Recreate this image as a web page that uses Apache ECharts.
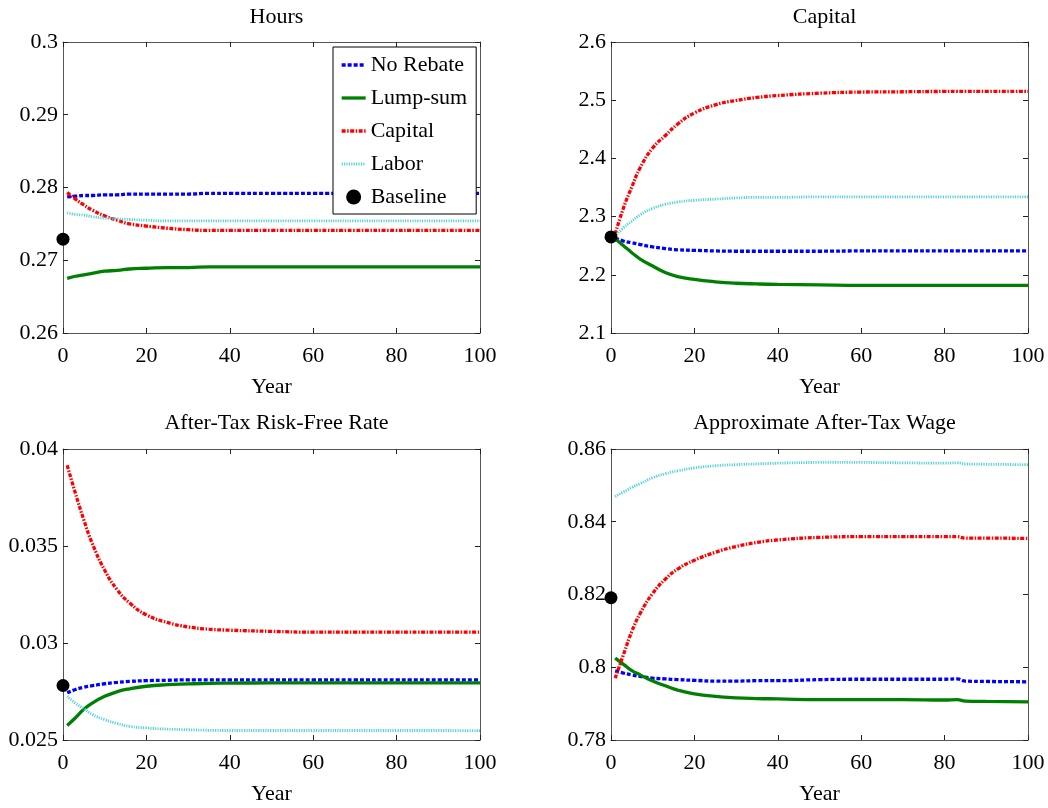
<!DOCTYPE html>
<html>
<head>
<meta charset="utf-8">
<script src="https://cdn.jsdelivr.net/npm/echarts@6/dist/echarts.min.js"></script>
<style>
html,body{margin:0;padding:0;background:#fff;}
#chart{width:1048px;height:808px;}
</style>
</head>
<body>
<div id="chart"></div>
<script>
// ---- data ----
const years = [1,3,5,7,10,13,16,20,25,30,35,40,50,60,70,80,83,85,90,100];
const seriesNames = ['No Rebate','Lump-sum','Capital','Labor'];
const baselineName = 'Baseline';
const baselineYear = 0;
const panelTitles = ['Hours','Capital','After-Tax Risk-Free Rate','Approximate After-Tax Wage'];
const xTicks = [0,20,40,60,80,100];

const hoursNoRebate = [0.2787,0.2788,0.2789,0.2789,0.2790,0.2790,0.2791,0.2791,0.2791,0.2791,0.2792,0.2792,0.2792,0.2792,0.2792,0.2792,0.2792,0.2792,0.2792,0.2792];
const hoursLumpSum  = [0.2675,0.2678,0.2680,0.2682,0.2685,0.2686,0.2688,0.2689,0.2690,0.2690,0.2691,0.2691,0.2691,0.2691,0.2691,0.2691,0.2691,0.2691,0.2691,0.2691];
const hoursCapital  = [0.2793,0.2784,0.2776,0.2769,0.2761,0.2755,0.2750,0.2747,0.2744,0.2742,0.2741,0.2741,0.2741,0.2741,0.2741,0.2741,0.2741,0.2741,0.2741,0.2741];
const hoursLabor    = [0.2765,0.2763,0.2762,0.2760,0.2758,0.2757,0.2756,0.2755,0.2754,0.2754,0.2754,0.2754,0.2754,0.2754,0.2754,0.2754,0.2754,0.2754,0.2754,0.2754];
const hoursBaseline = 0.2729;
const hoursTicks = [0.26,0.27,0.28,0.29,0.30];

const capNoRebate = [2.263,2.258,2.255,2.252,2.248,2.245,2.243,2.242,2.241,2.2405,2.2405,2.2405,2.2405,2.241,2.241,2.241,2.241,2.241,2.241,2.241];
const capLumpSum  = [2.262,2.250,2.238,2.227,2.215,2.204,2.197,2.192,2.188,2.1855,2.1843,2.1835,2.1826,2.182,2.182,2.182,2.182,2.182,2.182,2.182];
const capCapital  = [2.270,2.315,2.351,2.384,2.418,2.439,2.459,2.478,2.492,2.4995,2.5047,2.508,2.512,2.514,2.5145,2.515,2.515,2.515,2.515,2.515];
const capLabor    = [2.266,2.281,2.292,2.303,2.314,2.321,2.325,2.328,2.330,2.332,2.333,2.333,2.334,2.334,2.334,2.334,2.334,2.334,2.334,2.334];
const capBaseline = 2.265;
const capTicks = [2.1,2.2,2.3,2.4,2.5,2.6];

const rateNoRebate = [0.02743,0.02760,0.02772,0.02780,0.02790,0.02797,0.02802,0.02806,0.02808,0.02810,0.02810,0.02810,0.02810,0.02810,0.02810,0.02810,0.02810,0.02810,0.02810,0.02810];
const rateLumpSum  = [0.02575,0.02615,0.02658,0.02690,0.02725,0.02749,0.02764,0.02777,0.02785,0.02789,0.02792,0.02793,0.02794,0.02794,0.02794,0.02794,0.02794,0.02794,0.02794,0.02794];
const rateCapital  = [0.03916,0.03770,0.03634,0.03514,0.03375,0.03274,0.03206,0.03145,0.03106,0.03083,0.03071,0.03066,0.03060,0.03056,0.03056,0.03056,0.03056,0.03056,0.03056,0.03056];
const rateLabor    = [0.02726,0.02689,0.02661,0.02632,0.02605,0.02585,0.02570,0.02562,0.02556,0.02553,0.02550,0.02549,0.02549,0.02549,0.02549,0.02549,0.02549,0.02549,0.02549,0.02548];
const rateBaseline = 0.02781;
const rateTicks = [0.025,0.030,0.035,0.040];

const wageNoRebate = [0.7990,0.7984,0.7979,0.7975,0.7970,0.7968,0.7966,0.7964,0.7962,0.7962,0.7963,0.7963,0.7966,0.7967,0.7967,0.7967,0.7968,0.7962,0.7961,0.7960];
const wageLumpSum  = [0.8025,0.8008,0.7991,0.7979,0.7962,0.7949,0.7937,0.7927,0.7920,0.7916,0.7914,0.7913,0.7911,0.7911,0.7911,0.7910,0.7911,0.7907,0.7906,0.7905];
const wageCapital  = [0.7970,0.8035,0.8099,0.8148,0.8203,0.8242,0.8270,0.8294,0.8316,0.8332,0.8343,0.8350,0.8357,0.8359,0.8359,0.8359,0.8359,0.8355,0.8355,0.8354];
const wageLabor    = [0.8469,0.8482,0.8494,0.8505,0.8521,0.8532,0.8540,0.8548,0.8554,0.8557,0.8559,0.8561,0.8563,0.8563,0.8562,0.8561,0.8562,0.8559,0.8558,0.8557];
const wageBaseline = 0.8191;
const wageTicks = [0.78,0.80,0.82,0.84,0.86];

// ---- layout / style ----
const FONT = '"Liberation Serif", "Times New Roman", serif';
const panels = [
  {title: panelTitles[0], ticks: hoursTicks, lines: [hoursNoRebate, hoursLumpSum, hoursCapital, hoursLabor], base: hoursBaseline},
  {title: panelTitles[1], ticks: capTicks,   lines: [capNoRebate, capLumpSum, capCapital, capLabor], base: capBaseline},
  {title: panelTitles[2], ticks: rateTicks,  lines: [rateNoRebate, rateLumpSum, rateCapital, rateLabor], base: rateBaseline},
  {title: panelTitles[3], ticks: wageTicks,  lines: [wageNoRebate, wageLumpSum, wageCapital, wageLabor], base: wageBaseline}
];
const gridBoxes = [
  {left: 63,  top: 42,  width: 417, height: 291},
  {left: 611, top: 42,  width: 417, height: 291},
  {left: 63,  top: 449, width: 417, height: 291},
  {left: 611, top: 449, width: 417, height: 291}
];
const titleTops = [1, 1, 407, 407];
const lineStyles = [
  {color: '#0000ff', type: [4, 2], width: 3.3},
  {color: '#008000', type: 'solid', width: 3.3},
  {color: '#ff0000', type: [4, 1.5, 1.5, 1.5], width: 3.3},
  {color: '#55d3d8', type: [1.2, 1.2], width: 2.8}
];
const AX = '#555';
const fmt = v => String(parseFloat(Number(v).toFixed(5)));

const grid = [], xAxis = [], yAxis = [], series = [], title = [];
panels.forEach((p, i) => {
  const g = gridBoxes[i];
  grid.push(Object.assign({containLabel: false}, g));
  title.push({
    text: p.title, left: g.left + g.width / 2, top: titleTops[i], textAlign: 'center',
    textStyle: {fontFamily: FONT, fontSize: 22, fontWeight: 'normal', color: '#000'}
  });
  const xmin = xTicks[0], xmax = xTicks[xTicks.length - 1], xint = xTicks[1] - xTicks[0];
  const ymin = p.ticks[0], ymax = p.ticks[p.ticks.length - 1];
  const yint = p.ticks[1] - p.ticks[0];
  xAxis.push({
    type: 'value', gridIndex: i, min: xmin, max: xmax, interval: xint, position: 'bottom',
    name: 'Year', nameLocation: 'middle', nameGap: 43,
    nameTextStyle: {fontFamily: FONT, fontSize: 22, color: '#000'},
    axisLine: {show: true, onZero: false, lineStyle: {color: AX, width: 1}},
    axisTick: {show: true, inside: true, length: 5, lineStyle: {color: '#222'}},
    axisLabel: {show: true, margin: 12, fontFamily: FONT, fontSize: 22, color: '#000', formatter: fmt},
    splitLine: {show: false}
  });
  xAxis.push({
    type: 'value', gridIndex: i, min: xmin, max: xmax, interval: xint, position: 'top',
    axisLine: {show: true, onZero: false, lineStyle: {color: AX, width: 1}},
    axisTick: {show: true, inside: true, length: 5, lineStyle: {color: '#222'}},
    axisLabel: {show: false}, splitLine: {show: false}
  });
  yAxis.push({
    type: 'value', gridIndex: i, min: ymin, max: ymax, interval: yint, position: 'left',
    axisLine: {show: true, onZero: false, lineStyle: {color: AX, width: 1}},
    axisTick: {show: true, inside: true, length: 5, lineStyle: {color: '#222'}},
    axisLabel: {show: true, margin: 5, fontFamily: FONT, fontSize: 22, color: '#000', formatter: fmt},
    splitLine: {show: false}
  });
  yAxis.push({
    type: 'value', gridIndex: i, min: ymin, max: ymax, interval: yint, position: 'right',
    axisLine: {show: true, onZero: false, lineStyle: {color: AX, width: 1}},
    axisTick: {show: true, inside: true, length: 5, lineStyle: {color: '#222'}},
    axisLabel: {show: false}, splitLine: {show: false}
  });
  p.lines.forEach((vals, k) => {
    series.push({
      name: seriesNames[k], type: 'line', xAxisIndex: 2 * i, yAxisIndex: 2 * i,
      data: years.map((yr, j) => [yr, vals[j]]),
      symbol: 'none', smooth: 0.5,
      lineStyle: lineStyles[k], itemStyle: {color: lineStyles[k].color},
      silent: true, animation: false, z: 2
    });
  });
  series.push({
    name: baselineName, type: 'scatter', xAxisIndex: 2 * i, yAxisIndex: 2 * i,
    data: [[baselineYear, p.base]], symbol: 'circle', symbolSize: 13,
    itemStyle: {color: '#000', opacity: 1}, clip: false, silent: true, animation: false, z: 5
  });
});

const legendData = seriesNames.map((n, k) => ({
  name: n, itemStyle: {opacity: 0},
  lineStyle: {color: lineStyles[k].color, type: lineStyles[k].type, width: lineStyles[k].width}
})).concat([{name: baselineName, icon: 'circle', itemStyle: {color: '#000', opacity: 1}}]);

const chart = echarts.init(document.getElementById('chart'), null, {renderer: 'canvas'});
chart.setOption({
  backgroundColor: '#fff',
  animation: false,
  title, grid, xAxis, yAxis, series,
  legend: {
    orient: 'vertical', left: 333, top: 47,
    padding: [7, 9, 6, 7], itemGap: 11, itemWidth: 24, itemHeight: 15,
    backgroundColor: '#fff', borderColor: '#000', borderWidth: 1, borderRadius: 0,
    textStyle: {fontFamily: FONT, fontSize: 22, color: '#000', lineHeight: 22},
    data: legendData,
    selectedMode: false
  }
});
</script>
</body>
</html>
